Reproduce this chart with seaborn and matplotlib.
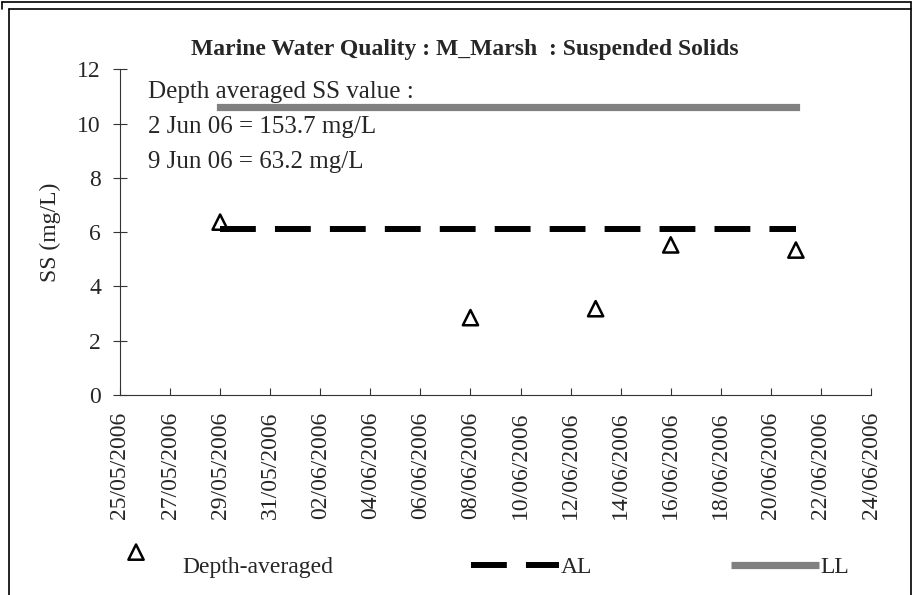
import pandas as pd
import matplotlib.pyplot as plt
from matplotlib.lines import Line2D
import seaborn as sns

# data
sample_dates = ['2006-05-29', '2006-06-08', '2006-06-13', '2006-06-16', '2006-06-21']
ss_values = [6.37, 2.85, 3.18, 5.53, 5.34]
limit_dates = ['2006-05-29', '2006-06-21']
al_values = [6.1, 6.1]
ll_values = [10.6, 10.6]
y_ticks = [0, 2, 4, 6, 8, 10, 12]
x_start, x_end = '2006-05-25', '2006-06-24'
notes = ['Depth averaged SS value :', '2 Jun 06 = 153.7 mg/L', '9 Jun 06 = 63.2 mg/L']
title = 'Marine Water Quality : M_Marsh  : Suspended Solids'

sns.set_style('ticks')
plt.rcParams['font.family'] = ['Liberation Serif', 'DejaVu Serif']
plt.rcParams['font.size'] = 17

df = pd.DataFrame({'date': pd.to_datetime(sample_dates), 'ss': ss_values})
lim = pd.DataFrame({'date': pd.to_datetime(limit_dates), 'al': al_values, 'll': ll_values})

W, H = 913, 595
fig = plt.figure(figsize=(W / 100, H / 100), dpi=100)
ax = fig.add_axes([120 / W, 200 / H, 751 / W, 325.7 / H])

sns.lineplot(data=lim, x='date', y='ll', ax=ax, color='#808080', linewidth=5.2, label='LL')
ax.lines[-1].set_solid_capstyle('projecting')
sns.lineplot(data=lim, x='date', y='al', ax=ax, color='black', linewidth=4.3, label='AL')
ax.lines[-1].set_dashes([6, 3.2])
sns.scatterplot(data=df, x='date', y='ss', ax=ax, marker='^', s=120, color='black',
                facecolor='none', edgecolor='black', linewidth=1.8,
                label='Depth-averaged', zorder=5)

ticks = pd.date_range(x_start, x_end, freq='2D')
ax.set_xlim(pd.Timestamp(x_start), pd.Timestamp(x_end))
ax.set_xticks(ticks)
ax.set_xticklabels([d.strftime('%d/%m/%Y') for d in ticks], rotation=90)
ax.set_ylim(0, 12)
ax.set_yticks(y_ticks)
ax.set_xlabel('')
ax.set_ylabel('SS (mg/L)', labelpad=12)

sns.despine(ax=ax)
for s in ['left', 'bottom']:
    ax.spines[s].set_color('#333333')
    ax.spines[s].set_linewidth(0.8)
ax.tick_params(axis='y', direction='inout', length=10, width=0.8, color='#333333', pad=8.7)
ax.tick_params(axis='x', direction='in', length=5, width=0.8, color='#333333', pad=12)

for i, t in enumerate(notes):
    ax.text(28 / 751, (297 - 35 * i) / 325.7, t, transform=ax.transAxes,
            ha='left', va='baseline', fontsize=18)

fig.text(465 / W, 1 - 55 / H, title, ha='center', va='baseline',
         fontweight='bold', fontsize=17)

handles, labels = ax.get_legend_handles_labels()
order = [labels.index(l) for l in ['Depth-averaged', 'AL', 'LL']]
leg = ax.legend([handles[i] for i in order], [labels[i] for i in order], ncol=3,
                loc='center left', bbox_to_anchor=(92 / W, 1 - 567 / H),
                bbox_transform=fig.transFigure, frameon=False, handlelength=3.73,
                handletextpad=0.08, columnspacing=5.85, borderpad=0, borderaxespad=0,
                scatteryoffsets=[1.25], fontsize=17)
for ln in leg.get_lines():
    ln.set_solid_capstyle('butt')

# outer frame lines
def frame(xs, ys):
    fig.add_artist(Line2D([x / W for x in xs], [1 - y / H for y in ys],
                          color='black', linewidth=1.2, transform=fig.transFigure))

frame([2, 911], [2, 2])
frame([2, 2], [2, 9])
frame([9, 911], [9, 9])
frame([9, 9], [9, 595])
frame([911, 911], [2, 595])

fig.savefig('out.png', dpi=100)
